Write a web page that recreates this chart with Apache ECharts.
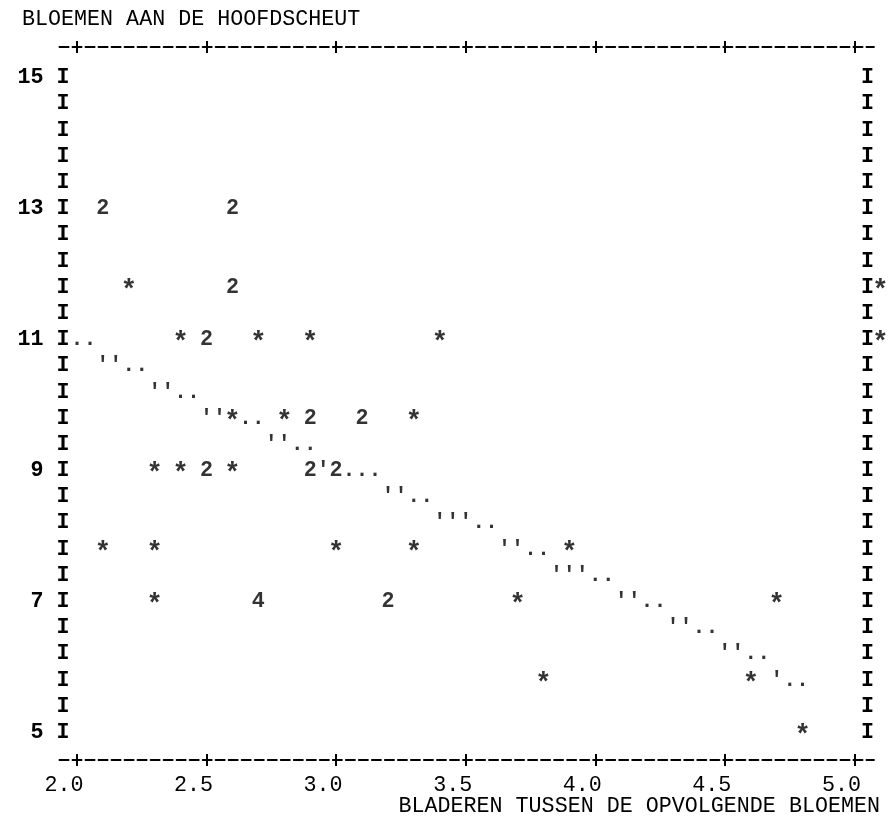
<!DOCTYPE html>
<html lang="nl">
<head>
    <meta charset="UTF-8">
    <script src="https://cdn.jsdelivr.net/npm/echarts/dist/echarts.min.js"></script>
    <title>Bloemen aan de hoofdscheut</title>
</head>
<body style="margin: 0; background: #ffffff">
<div id="plot" style="width: 890px;height: 826px;"></div>

<script>
    // waarnemingen (1 punt) -> '*'
    const starX = [2.20, 5.10, 2.40, 2.70, 2.90, 3.40, 5.10, 2.60, 2.80, 3.30,
        2.30, 2.40, 2.60, 2.10, 2.30, 3.00, 3.30, 3.90, 2.30, 3.70, 4.70, 3.80, 4.60, 4.80];
    const starY = [11.8, 11.8, 11.0, 11.0, 11.0, 11.0, 11.0, 9.8, 9.8, 9.8,
        9.0, 9.0, 9.0, 7.8, 7.8, 7.8, 7.8, 7.8, 7.0, 7.0, 7.0, 5.8, 5.8, 5.0];

    // meerdere waarnemingen op dezelfde plek -> aantal
    const countX = [2.10, 2.60, 2.60, 2.50, 2.90, 3.10, 2.50, 2.90, 3.00, 2.70, 3.20];
    const countY = [13.0, 13.0, 11.8, 11.0, 9.8, 9.8, 9.0, 9.0, 9.0, 7.0, 7.0];
    const countN = [2, 2, 2, 2, 2, 2, 2, 2, 2, 4, 2];

    // regressielijn, bovenste helft van de regel -> "'"
    const lineHighX = [2.10, 2.15, 2.30, 2.35, 2.50, 2.55, 2.75, 2.80, 2.95, 3.20, 3.25,
        3.40, 3.45, 3.50, 3.65, 3.70, 3.85, 3.90, 3.95, 4.10, 4.15, 4.30, 4.35, 4.50, 4.55, 4.70];
    const lineHighY = [10.6, 10.6, 10.2, 10.2, 9.8, 9.8, 9.4, 9.4, 9.0, 8.6, 8.6,
        8.2, 8.2, 8.2, 7.8, 7.8, 7.4, 7.4, 7.4, 7.0, 7.0, 6.6, 6.6, 6.2, 6.2, 5.8];

    // regressielijn, onderste helft van de regel -> "."
    const lineLowX = [2.00, 2.05, 2.20, 2.25, 2.40, 2.45, 2.65, 2.70, 2.85, 2.90, 3.05, 3.10, 3.15,
        3.30, 3.35, 3.55, 3.60, 3.75, 3.80, 4.00, 4.05, 4.20, 4.25, 4.40, 4.45, 4.60, 4.65, 4.75, 4.80];
    const lineLowY = [11.0, 11.0, 10.6, 10.6, 10.2, 10.2, 9.8, 9.8, 9.4, 9.4, 9.0, 9.0, 9.0,
        8.6, 8.6, 8.2, 8.2, 7.8, 7.8, 7.4, 7.4, 7.0, 7.0, 6.6, 6.6, 6.2, 6.2, 5.8, 5.8];

    const xTicks = [2.0, 2.5, 3.0, 3.5, 4.0, 4.5, 5.0];
    const yRows = [5.0, 5.4, 5.8, 6.2, 6.6, 7.0, 7.4, 7.8, 8.2, 8.6, 9.0, 9.4, 9.8,
        10.2, 10.6, 11.0, 11.4, 11.8, 12.2, 12.6, 13.0, 13.4, 13.8, 14.2, 14.6, 15.0];
    const yNumbered = [5, 7, 9, 11, 13, 15];

    const FONT = "Liberation Mono";
    const FSIZE = 21.7;
    const INK = "#000000";

    const myChart = echarts.init(document.getElementById('plot'));

    //scatter serie die alleen tekens tekent
    function charSeries(xs, ys, texts, size, offsetY) {
        let data = [];
        for (let i = 0; i < xs.length; i++) {
            data.push({value: [xs[i], ys[i]], txt: texts[i]});
        }
        return {
            type: 'scatter',
            silent: true,
            clip: false,
            symbol: 'rect',
            symbolSize: 1,
            itemStyle: {color: 'rgba(0,0,0,0)'},
            label: {
                show: true,
                position: 'inside',
                offset: [0, offsetY],
                formatter: function (p) {
                    return p.data.txt;
                },
                fontFamily: FONT,
                fontSize: size,
                fontWeight: 'bold',
                color: INK
            },
            data: data
        };
    }

    function xAxisPart(pos, inside, withLine, withLabel) {
        return {
            type: 'value',
            position: pos,
            min: 1.925,
            max: 5.075,
            splitLine: {show: false},
            axisLine: {
                show: withLine,
                onZero: false,
                lineStyle: {color: INK, width: 2, type: [9, 4.016], dashOffset: 11}
            },
            axisTick: {
                show: true,
                inside: inside,
                length: 6,
                customValues: xTicks,
                lineStyle: {color: INK, width: 2}
            },
            axisLabel: {
                show: withLabel,
                customValues: xTicks,
                margin: 14,
                fontFamily: FONT,
                fontSize: FSIZE,
                color: INK,
                formatter: function (v) {
                    return v.toFixed(1) + '  ';
                }
            }
        };
    }

    function yAxisPart(pos, align, margin, fmt) {
        return {
            type: 'value',
            position: pos,
            min: 4.58,
            max: 15.47,
            splitLine: {show: false},
            axisLine: {show: false},
            axisTick: {show: false},
            axisLabel: {
                customValues: yRows,
                align: align,
                margin: margin,
                fontFamily: FONT,
                fontSize: FSIZE,
                fontWeight: 'bold',
                color: INK,
                formatter: fmt
            }
        };
    }

    let option = {
        animation: false,
        title: [{
            text: 'BLOEMEN AAN DE HOOFDSCHEUT',
            left: 22,
            top: 8,
            padding: 0,
            textStyle: {fontFamily: FONT, fontSize: FSIZE, fontWeight: 'normal', color: INK}
        }, {
            text: 'BLADEREN TUSSEN DE OPVOLGENDE BLOEMEN',
            right: 10,
            top: 795,
            padding: 0,
            textStyle: {fontFamily: FONT, fontSize: FSIZE, fontWeight: 'normal', color: INK}
        }],
        grid: {left: 57.5, right: 12.5, top: 47, bottom: 66},
        xAxis: [
            xAxisPart('bottom', false, true, true),
            xAxisPart('bottom', true, false, false),
            xAxisPart('top', false, true, false),
            xAxisPart('top', true, false, false)
        ],
        yAxis: [
            yAxisPart('left', 'right', -12, function (v) {
                let n = yNumbered.find(k => Math.abs(k - v) < 1e-6);
                return n !== undefined ? n + ' I' : 'I';
            }),
            yAxisPart('right', 'center', -6.5, function () {
                return 'I';
            })
        ],
        series: [
            charSeries(starX, starY, starX.map(() => '*'), 27, 4),
            charSeries(countX, countY, countN.map(String), FSIZE, 0),
            charSeries(lineHighX, lineHighY, lineHighX.map(() => "'"), FSIZE, 0),
            charSeries(lineLowX, lineLowY, lineLowX.map(() => '.'), FSIZE, 0)
        ]
    };

    myChart.setOption(option);
</script>
</body>
</html>
